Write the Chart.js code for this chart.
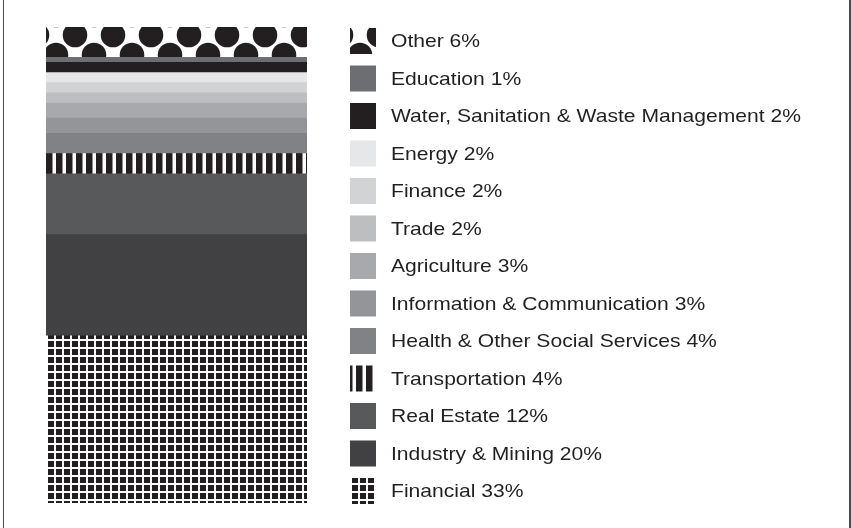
<!DOCTYPE html>
<html>
<head>
<meta charset="utf-8">
<script src="https://cdn.jsdelivr.net/npm/chart.js@4"></script>
<style>
  html, body { margin: 0; padding: 0; background: #fff; }
  #wrap { position: relative; width: 851px; height: 528px; }
  .edge { position: absolute; top: 0; bottom: 0; width: 1.5px; background: #4a494b; }
</style>
</head>
<body>
<div id="wrap">
  <canvas id="chart" width="851" height="528"></canvas>
  <div class="edge" style="left:2.5px"></div>
  <div class="edge" style="left:849px"></div>
</div>
<script>
// bottom of the stack first
const categories = [
  'Financial', 'Industry & Mining', 'Real Estate', 'Transportation',
  'Health & Other Social Services', 'Information & Communication', 'Agriculture',
  'Trade', 'Finance', 'Energy', 'Water, Sanitation & Waste Management',
  'Education', 'Other',
];
const shares = [33, 20, 12, 4, 4, 3, 3, 2, 2, 2, 2, 1, 6];
const fills = [
  'grid', '#414042', '#58595b', 'stripes',
  '#808285', '#939598', '#a7a9ac',
  '#bcbec0', '#d1d3d4', '#e6e7e8', '#231f20',
  '#6d6e71', 'dots',
];

const INK = '#231f20';
const FONT = "'Liberation Sans', Arial, sans-serif";

function _tile(w, h, draw) {
  const c = document.createElement('canvas');
  c.width = w;
  c.height = h;
  draw(c.getContext('2d'));
  return c;
}

function _makePattern(ctx, kind) {
  let p;
  if (kind === 'dots') {
    const t = _tile(38, 40, (g) => {
      g.fillStyle = '#fff';
      g.fillRect(0, 0, 38, 40);
      g.fillStyle = INK;
      [[19, 8], [19, 48], [0, 28], [38, 28], [0, -12], [38, -12]].forEach(([x, y]) => {
        g.beginPath();
        g.arc(x, y, 12.3, 0, Math.PI * 2);
        g.fill();
      });
    });
    p = ctx.createPattern(t, 'repeat');
    p.setTransform(new DOMMatrix().translate(56, 27));
  } else if (kind === 'stripes') {
    const t = _tile(10, 10, (g) => {
      g.fillStyle = INK;
      g.fillRect(0, 0, 10, 10);
      g.fillStyle = '#fff';
      g.fillRect(6.5, 0, 3.5, 10);
    });
    p = ctx.createPattern(t, 'repeat');
    p.setTransform(new DOMMatrix().translate(46, 0));
  } else if (kind === 'grid') {
    const t = _tile(8, 8, (g) => {
      g.fillStyle = '#fff';
      g.fillRect(0, 0, 8, 8);
      g.fillStyle = INK;
      g.fillRect(2, 2, 6, 6);
    });
    p = ctx.createPattern(t, 'repeat');
    p.setTransform(new DOMMatrix().translate(46, 339));
  }
  return p;
}

const canvas = document.getElementById('chart');
const ctx = canvas.getContext('2d');
const total = shares.reduce((a, b) => a + b, 0);

const sideLegend = {
  id: 'sideLegend',
  afterDraw(chart) {
    const { ctx: c, chartArea } = chart;
    const size = 26;
    const n = chart.data.datasets.length;
    const step = (chartArea.height - size) / (n - 1);
    const x = chartArea.right + 43;
    c.save();
    c.font = `18.5px ${FONT}`;
    c.textBaseline = 'middle';
    chart.data.datasets.slice().reverse().forEach((ds, i) => {
      const y = chartArea.top + 1 + i * step;
      c.fillStyle = ds.backgroundColor;
      c.fillRect(x, y, size, size);
      // reference type is a little wider than Liberation Sans
      c.save();
      c.translate(x + 41, y + size / 2 + 1);
      c.scale(1.14, 1);
      c.fillStyle = INK;
      c.fillText(ds.label, 0, 0);
      c.restore();
    });
    c.restore();
  },
};

new Chart(canvas, {
  type: 'bar',
  data: {
    labels: [''],
    datasets: categories.map((name, i) => ({
      label: `${name} ${shares[i]}%`,
      data: [shares[i]],
      backgroundColor: fills[i].startsWith('#') ? fills[i] : _makePattern(ctx, fills[i]),
      borderWidth: 0,
      barPercentage: 1,
      categoryPercentage: 1,
    })),
  },
  options: {
    responsive: false,
    animation: false,
    events: [],
    layout: { padding: { left: 46, top: 27, right: 544, bottom: 25 } },
    plugins: { legend: { display: false }, tooltip: { enabled: false } },
    scales: {
      x: { stacked: true, display: false },
      y: { stacked: true, display: false, min: 0, max: total },
    },
  },
  plugins: [sideLegend],
});
</script>
</body>
</html>
